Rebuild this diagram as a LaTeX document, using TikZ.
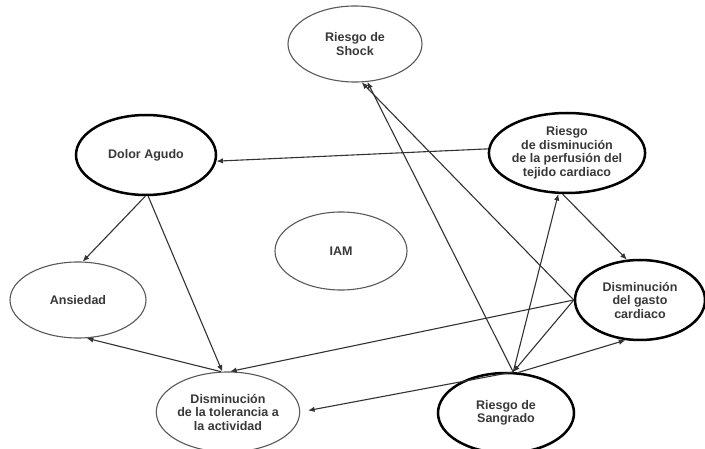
\documentclass[tikz,border=0pt]{standalone}
\usepackage{fontspec}
\setmainfont{Liberation Sans}
\usetikzlibrary{shapes.geometric,arrows.meta}
\begin{document}
\begin{tikzpicture}[x=1pt,y=-1pt,
  el/.style={ellipse, draw=black!65, line width=1.1pt, inner sep=0pt, align=center,
    font=\bfseries\fontsize{12.5}{13.5}\selectfont, text=black!78},
  bold el/.style={el, draw=black, line width=2.5pt},
  arr/.style={draw=black!80, line width=1.1pt, -{Latex[length=6.5pt,width=5.5pt]}}
]
\useasboundingbox[fill=white] (0,0) rectangle (705,449);

\node[el, minimum width=134pt, minimum height=76pt] (shock) at (355,44) {Riesgo de\\Shock};
\node[bold el, minimum width=136pt, minimum height=80pt] (perf) at (567,153) {Riesgo\\de disminución\\de la perfusión del\\tejido cardiaco};
\node[bold el, minimum width=140pt, minimum height=80pt] (dolor) at (146,155) {Dolor Agudo};
\node[el, minimum width=136pt, minimum height=76pt] (ans) at (78,300) {Ansiedad};
\node[el, minimum width=132pt, minimum height=78pt] (iam) at (341,251) {IAM};
\node[bold el, minimum width=130pt, minimum height=80pt] (gasto) at (640,300) {Disminución\\del gasto\\cardiaco};
\node[el, minimum width=134pt, minimum height=80pt] (tol) at (228,412) {Disminución\\de la tolerancia a\\la actividad};
\node[bold el, minimum width=136pt, minimum height=80pt] (sang) at (506,413) {Riesgo de\\Sangrado};

\draw[arr] (perf.177) -- (dolor.-5);
\draw[arr] (perf.-96) -- (gasto.108);
\draw[arr] (dolor.-91) -- (ans.83);
\draw[arr] (dolor.-87) -- (tol.98);
\draw[arr] (gasto.180) -- (tol.87);
\draw[arr] (tol.100) -- (ans.-77);
\draw[arr, shorten >=8pt] (sang.80) -- (tol.0);
\draw[arr] (sang.80) -- (shock.-72);
\draw[arr] (sang.80) -- (perf.-102);
\draw[arr] (sang.73) -- (gasto.-110);
\draw[arr] (gasto.180) -- (sang.80);
\draw[arr] (gasto.180) -- (shock.-80);
\end{tikzpicture}
\end{document}
